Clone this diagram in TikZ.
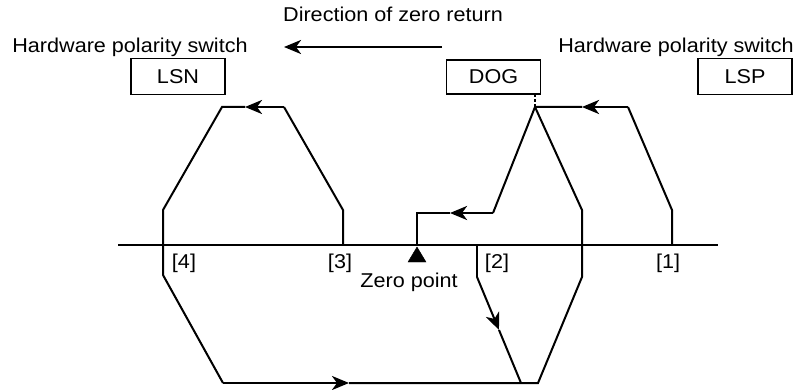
\documentclass[tikz,border=0pt]{standalone}
\usepackage{fontspec}
\setmainfont{Liberation Sans}[FakeStretch=1.08]
\usetikzlibrary{arrows.meta}
\newcommand{\labelfont}{\fontsize{20}{24}\selectfont}
\tikzset{
  track/.style={line width=2pt,draw=black},
  flow/.style={-{Stealth[length=17pt,width=14pt,inset=5pt]},line width=2.6pt,draw=black},
  switchbox/.style={draw,line width=1.8pt,minimum width=94pt,minimum height=36pt,
    inner sep=0pt,font=\labelfont},
  tag/.style={inner sep=0pt,anchor=base,font=\labelfont}
}

\begin{document}
\begin{tikzpicture}[x=1pt,y=-1pt]
  \useasboundingbox (0,0) rectangle (803,390);

  % captions
  \node[tag] (dirtext) at (393,22) {Direction of zero return};
  \node[tag] (hwleft) at (130,53) {Hardware polarity switch};
  \node[tag] (hwright) at (676,53) {Hardware polarity switch};
  \coordinate (dirstart) at (442,47);
  \coordinate (dirend) at (284,47);
  \draw[flow] (dirstart) -- (dirend);

  % switches
  \node[switchbox] (lsn) at (178,76.5) {LSN};
  \node[switchbox,minimum height=34pt] (dog) at (493.5,77) {DOG};
  \node[switchbox] (lsp) at (745,76.5) {LSP};

  % axis
  \coordinate (axisL) at (118,245);
  \coordinate (axisR) at (718,245);
  \draw[track] (axisL) -- (axisR);

  % corners of the runs
  \coordinate (p1) at (672,245);
  \coordinate (p1a) at (672,210);
  \coordinate (p1b) at (628,107);
  \coordinate (p1arrow) at (582,107);
  \coordinate (peak) at (535,107);
  \coordinate (backa) at (493,213);
  \coordinate (backarrow) at (450,213);
  \coordinate (zeroa) at (417,213);
  \coordinate (zero) at (417,245);
  \coordinate (p2) at (477,245);
  \coordinate (p2a) at (477,277);
  \coordinate (p2arrow) at (499,330);
  \coordinate (p2b) at (521,383);
  \coordinate (p3) at (343,245);
  \coordinate (p3a) at (343,210);
  \coordinate (p3b) at (284,107);
  \coordinate (p3arrow) at (245,107);
  \coordinate (p4a) at (222,107);
  \coordinate (p4b) at (163,210);
  \coordinate (p4c) at (163,275);
  \coordinate (p4d) at (223,383);
  \coordinate (botarrow) at (349,383);
  \coordinate (botR) at (538,383);
  \coordinate (riseA) at (582,277);
  \coordinate (riseB) at (582,210);

  % run from [1] to the zero point
  \draw[track] (p1) -- (p1a) -- (p1b);
  \draw[flow] (p1b) -- (p1arrow);
  \draw[track] (p1arrow) -- (peak) -- (backa);
  \draw[flow] (backa) -- (backarrow);
  \draw[track] (backarrow) -- (zeroa) -- (zero);

  % run from [2]
  \draw[track] (p2) -- (p2a);
  \draw[flow,line width=2pt] (p2a) -- (p2arrow);
  \draw[track] (p2arrow) -- (p2b);

  % run from [3] over LSN and back
  \draw[track] (p3) -- (p3a) -- (p3b);
  \draw[flow] (p3b) -- (p3arrow);
  \draw[track] (p3arrow) -- (p4a) -- (p4b) -- (p4c) -- (p4d);
  \draw[flow] (p4d) -- (botarrow);
  \draw[track] (botarrow) -- (botR) -- (riseA) -- (riseB) -- (peak);

  % DOG tick
  \draw[line width=1.8pt,dash pattern=on 3pt off 2pt] (peak) -- (peak |- dog.south);

  % zero point
  \draw[fill=black] (417,247) -- (408,262) -- (426,262) -- cycle;
  \node[tag] (zerotext) at (409,287) {Zero point};

  % position labels
  \node[tag] (l1) at (668,269) {[1]};
  \node[tag] (l2) at (497,269) {[2]};
  \node[tag] (l3) at (340,269) {[3]};
  \node[tag] (l4) at (184,269) {[4]};
\end{tikzpicture}
\end{document}
